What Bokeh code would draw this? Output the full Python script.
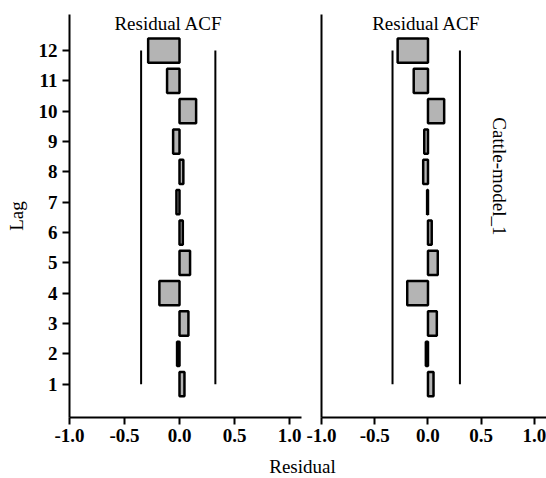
import math
from bokeh.plotting import figure
from bokeh.models import Range1d, FixedTicker, NumeralTickFormatter, Label
from bokeh.layouts import row, column
from bokeh.embed import file_html
from bokeh.resources import INLINE

# ---- data ----
lags = [1, 2, 3, 4, 5, 6, 7, 8, 9, 10, 11, 12]
acf_left = [0.045, -0.022, 0.081, -0.183, 0.096, 0.030, -0.028, 0.035, -0.058, 0.151, -0.113, -0.285]
acf_right = [0.052, -0.020, 0.083, -0.195, 0.092, 0.035, -0.008, -0.045, -0.035, 0.152, -0.134, -0.285]
conf_lags = [1, 12]
lower_left = [-0.349, -0.349]
upper_left = [0.326, 0.326]
lower_right = [-0.333, -0.333]
upper_right = [0.300, 0.300]
x_ticks = [-1.0, -0.5, 0.0, 0.5, 1.0]
panel_title = "Residual ACF"
x_label = "Residual"
y_label = "Lag"
model_name = "Cattle-model_1"

FONT = "Liberation Serif"
FS = "19px"
BAR_FILL = "#b4b4b4"


def style_x(p):
    ax = p.xaxis[0]
    ax.ticker = FixedTicker(ticks=x_ticks)
    ax.formatter = NumeralTickFormatter(format="0.0")
    ax.axis_line_width = 2
    ax.axis_line_color = "black"
    ax.major_tick_line_width = 2
    ax.major_tick_out = 7
    ax.major_tick_in = 0
    ax.minor_tick_out = 0
    ax.minor_tick_in = 0
    ax.major_label_standoff = 4
    ax.major_label_text_font = FONT
    ax.major_label_text_font_size = FS
    ax.major_label_text_font_style = "bold"
    ax.major_label_text_color = "black"


def make_panel(vals, lo, hi, width, x_end, bl, br, title_x):
    p = figure(width=width, height=452, title=None,
               x_range=Range1d(-1.0, x_end), y_range=Range1d(-0.1, 13.19),
               output_backend="svg", toolbar_location=None,
               min_border_left=bl, min_border_right=br,
               min_border_top=14, min_border_bottom=35)
    p.xgrid.visible = False
    p.ygrid.visible = False
    p.outline_line_color = None
    p.background_fill_color = "white"
    p.border_fill_color = "white"
    style_x(p)
    ay = p.yaxis[0]
    ay.axis_line_width = 2
    ay.axis_line_color = "black"
    ay.minor_tick_out = 0
    ay.minor_tick_in = 0
    p.hbar(y=lags, left=0, right=vals, height=0.8,
           fill_color=BAR_FILL, line_color="black", line_width=2.5)
    p.line(x=lo, y=conf_lags, line_color="black", line_width=2)
    p.line(x=hi, y=conf_lags, line_color="black", line_width=2)
    p.add_layout(Label(x=title_x, y=13.19, y_offset=-9, text=panel_title,
                       text_align="center", text_baseline="alphabetic",
                       text_font=FONT, text_font_size=FS, text_color="black"))
    return p


left = make_panel(acf_left, lower_left, upper_left, 304, 1.109, 69, 3, -0.10)
ay = left.yaxis[0]
ay.ticker = FixedTicker(ticks=lags)
ay.major_tick_line_width = 2
ay.major_tick_out = 7
ay.major_tick_in = 0
ay.major_label_standoff = 5
ay.major_label_text_font = FONT
ay.major_label_text_font_size = FS
ay.major_label_text_font_style = "bold"
ay.major_label_text_color = "black"
ay.axis_label = y_label
ay.axis_label_standoff = 9
ay.axis_label_text_font = FONT
ay.axis_label_text_font_size = FS
ay.axis_label_text_font_style = "normal"
ay.axis_label_text_color = "black"

right = make_panel(acf_right, lower_right, upper_right, 242, 1.113, 17, 0, -0.016)
ry = right.yaxis[0]
ry.ticker = FixedTicker(ticks=[])
ry.major_tick_out = 0
ry.major_tick_in = 0
ry.major_label_text_font_size = "0px"
right.add_layout(Label(x=0.676, y=7.85, angle=-math.pi / 2, text=model_name,
                       text_align="center", text_baseline="middle",
                       text_font=FONT, text_font_size=FS, text_color="black"))

strip = figure(width=546, height=26, title=None,
               x_range=Range1d(0, 1), y_range=Range1d(0, 1),
               x_axis_type=None, y_axis_type=None,
               output_backend="svg", toolbar_location=None,
               min_border=0)
strip.outline_line_color = None
strip.add_layout(Label(x=302, y=12, x_units="screen", y_units="screen", text=x_label,
                       text_align="center", text_baseline="middle",
                       text_font=FONT, text_font_size=FS, text_color="black"))

layout = column(row(left, right), strip)
open("out.html", "w").write(file_html(layout, INLINE))
